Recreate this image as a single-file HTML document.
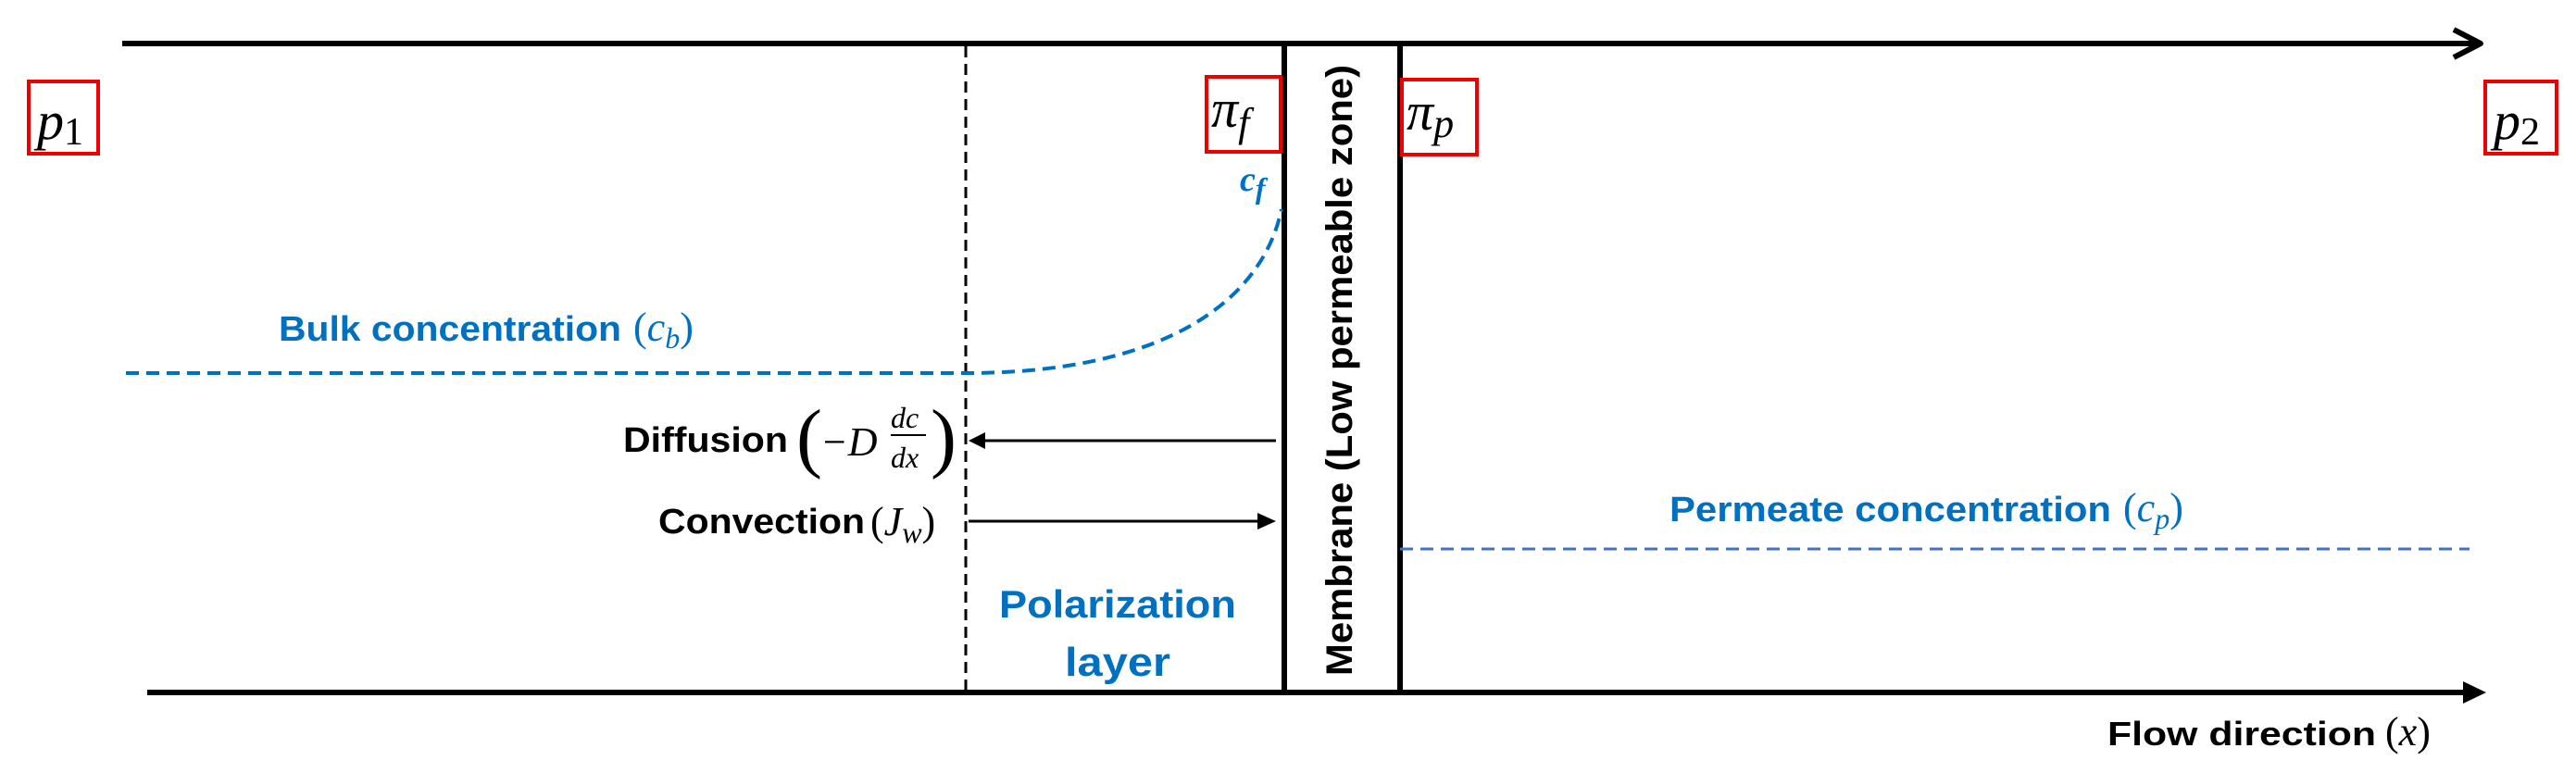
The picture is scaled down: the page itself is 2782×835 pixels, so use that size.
<!DOCTYPE html>
<html><head><meta charset="utf-8"><style>html,body{margin:0;padding:0;background:#fff}svg{display:block}</style></head>
<body>
<svg width="2782" height="835" viewBox="0 0 2782 835" xmlns="http://www.w3.org/2000/svg" font-family="Liberation Sans, sans-serif">
<rect width="2782" height="835" fill="#fff"/>
<!-- top arrow -->
<line x1="132" y1="47" x2="2676" y2="47" stroke="#000" stroke-width="6"/>
<polyline points="2650,32 2679,47 2650,62" fill="none" stroke="#000" stroke-width="6" stroke-linejoin="round"/>
<!-- bottom arrow -->
<line x1="159" y1="748" x2="2660" y2="748" stroke="#000" stroke-width="6"/>
<polygon points="2660,736 2685,748 2660,760" fill="#000"/>
<!-- dashed vertical -->
<line x1="1043" y1="50" x2="1043" y2="745" stroke="#000" stroke-width="3" stroke-dasharray="12,7"/>
<!-- membrane lines -->
<line x1="1387" y1="47" x2="1387" y2="750" stroke="#000" stroke-width="6"/>
<line x1="1512" y1="47" x2="1512" y2="750" stroke="#000" stroke-width="6"/>
<text transform="translate(1460,400) rotate(-90)" text-anchor="middle" font-size="40" font-weight="bold" textLength="660" lengthAdjust="spacingAndGlyphs" fill="#000">Membrane (Low permeable zone)</text>
<!-- boxes -->
<rect x="31" y="88" width="75" height="78" fill="none" stroke="#e00" stroke-width="4"/>
<text x="40" y="150" font-family="Liberation Serif, serif" font-style="italic" font-size="58">p<tspan font-style="normal" font-size="42" dy="6">1</tspan></text>
<rect x="2684" y="88" width="77" height="78" fill="none" stroke="#e00" stroke-width="4"/>
<text x="2693" y="150" font-family="Liberation Serif, serif" font-style="italic" font-size="58">p<tspan font-style="normal" font-size="42" dy="6">2</tspan></text>
<rect x="1303" y="83" width="80" height="81" fill="none" stroke="#e00" stroke-width="4"/>
<text x="1308" y="137" font-family="Liberation Serif, serif" font-style="italic" font-size="58">π<tspan font-size="44" dy="10">f</tspan></text>
<rect x="1514" y="86" width="81" height="81" fill="none" stroke="#e00" stroke-width="4"/>
<text x="1519" y="140" font-family="Liberation Serif, serif" font-style="italic" font-size="58">π<tspan font-size="44" dy="8">p</tspan></text>
<!-- c_f -->
<text x="1339" y="206" font-family="Liberation Serif, serif" font-style="italic" font-weight="bold" font-size="38" fill="#0070c0">c<tspan font-size="32" dy="8">f</tspan></text>
<!-- bulk line & curve -->
<path d="M136,403 L1043,403 C1250,403 1362,330 1384,226" fill="none" stroke="#0070c0" stroke-width="4" stroke-dasharray="14,8"/>
<text x="301" y="368" font-size="38" font-weight="bold" fill="#0070c0" textLength="370" lengthAdjust="spacingAndGlyphs">Bulk concentration</text>
<text x="684" y="368" font-family="Liberation Serif, serif" font-size="44" fill="#0070c0">(<tspan font-style="italic">c</tspan><tspan font-style="italic" font-size="32" dy="8">b</tspan><tspan dy="-8">)</tspan></text>
<!-- diffusion -->
<line x1="1060" y1="476" x2="1378" y2="476" stroke="#000" stroke-width="3"/>
<polygon points="1046,476 1064,467 1064,485" fill="#000"/>
<text x="673" y="488" font-size="38" font-weight="bold" textLength="178" lengthAdjust="spacingAndGlyphs">Diffusion</text>
<text x="860" y="500" font-family="Liberation Serif, serif" font-size="84" font-weight="100">(</text>
<text x="886" y="492" font-family="Liberation Serif, serif" font-style="italic" font-size="44">−D</text>
<text x="962" y="462" font-family="Liberation Serif, serif" font-style="italic" font-size="32">dc</text>
<line x1="962" y1="470" x2="1000" y2="470" stroke="#000" stroke-width="2"/>
<text x="962" y="505" font-family="Liberation Serif, serif" font-style="italic" font-size="32">dx</text>
<text x="1005" y="500" font-family="Liberation Serif, serif" font-size="84">)</text>
<!-- convection -->
<line x1="1046" y1="563" x2="1362" y2="563" stroke="#000" stroke-width="3"/>
<polygon points="1378,563 1358,554 1358,572" fill="#000"/>
<text x="711" y="576" font-size="38" font-weight="bold" textLength="223" lengthAdjust="spacingAndGlyphs">Convection</text>
<text x="940" y="578" font-family="Liberation Serif, serif" font-size="44">(<tspan font-style="italic">J</tspan><tspan font-style="italic" font-size="32" dy="8">w</tspan><tspan dy="-8">)</tspan></text>
<!-- polarization -->
<text x="1207" y="667" text-anchor="middle" font-size="42" font-weight="bold" fill="#0070c0" textLength="256" lengthAdjust="spacingAndGlyphs">Polarization</text>
<text x="1207" y="730" text-anchor="middle" font-size="44" font-weight="bold" fill="#0070c0" textLength="114" lengthAdjust="spacingAndGlyphs">layer</text>
<!-- permeate -->
<line x1="1512" y1="593" x2="2667" y2="593" stroke="#4472c4" stroke-width="3" stroke-dasharray="14,8"/>
<text x="1803" y="563" font-size="38" font-weight="bold" fill="#0070c0" textLength="477" lengthAdjust="spacingAndGlyphs">Permeate concentration</text>
<text x="2293" y="563" font-family="Liberation Serif, serif" font-size="44" fill="#0070c0">(<tspan font-style="italic">c</tspan><tspan font-style="italic" font-size="32" dy="8">p</tspan><tspan dy="-8">)</tspan></text>
<!-- flow direction -->
<text x="2276" y="805" font-size="36" font-weight="bold" textLength="290" lengthAdjust="spacingAndGlyphs">Flow direction</text>
<text x="2576" y="805" font-family="Liberation Serif, serif" font-size="44">(<tspan font-style="italic">x</tspan>)</text>
</svg>
</body></html>
